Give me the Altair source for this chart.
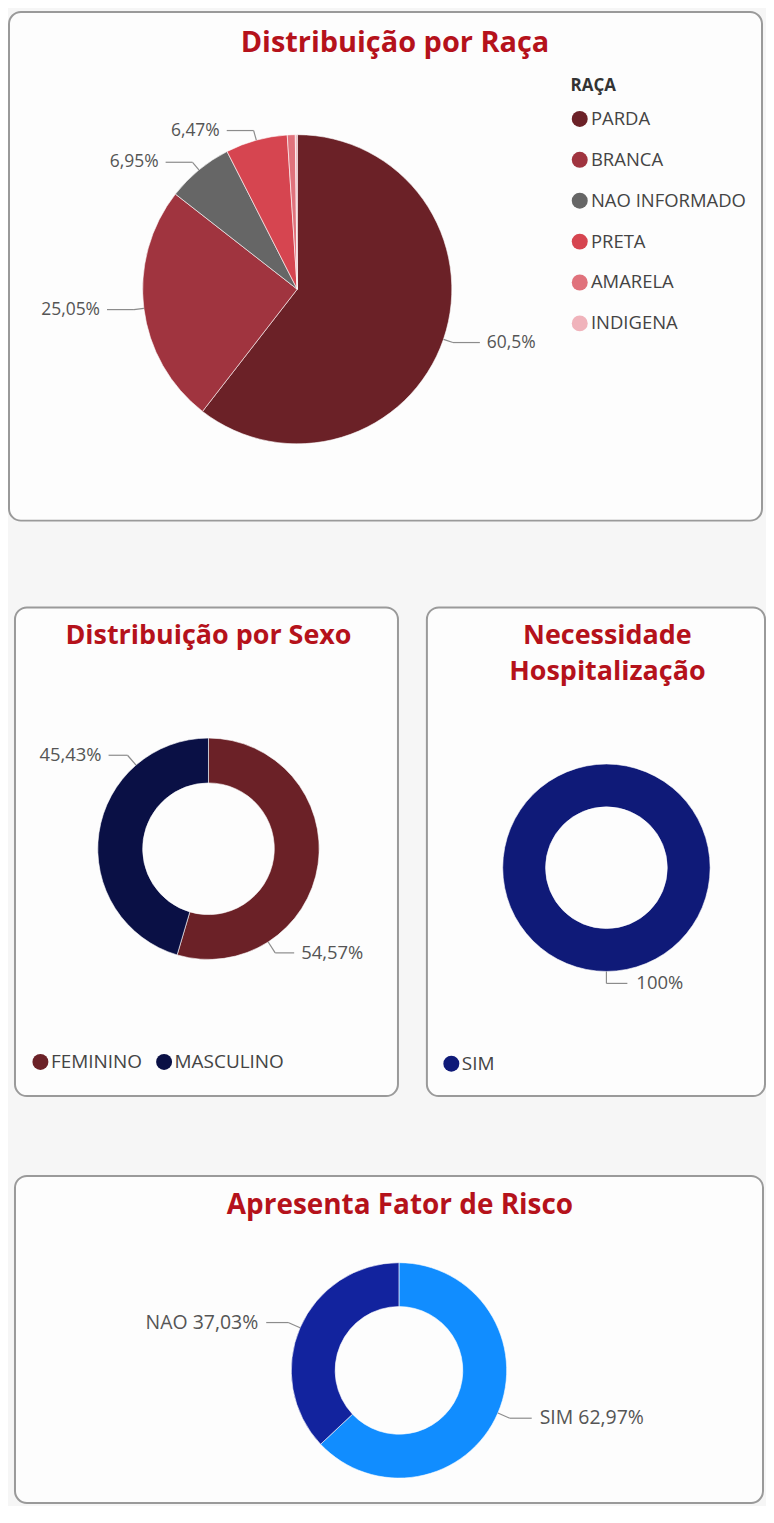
import altair as alt
import pandas as pd

# ---------------- data ----------------
raca_cats = ["PARDA", "BRANCA", "NAO INFORMADO", "PRETA", "AMARELA", "INDIGENA"]
raca_vals = [60.5, 25.05, 6.95, 6.47, 0.83, 0.20]
raca_colors = ["#6b2127", "#a0343f", "#666666", "#d64550", "#e0727c", "#f0b3bb"]

sexo_cats = ["FEMININO", "MASCULINO"]
sexo_vals = [54.57, 45.43]
sexo_colors = ["#6b2127", "#0a1045"]

hosp_cats = ["SIM"]
hosp_vals = [100.0]
hosp_colors = ["#0f1a78"]

risco_cats = ["SIM", "NAO"]
risco_vals = [62.97, 37.03]
risco_colors = ["#118dff", "#12239e"]

FONT = "Open Sans"
TITLE_COLOR = "#b5121b"
LABEL_COLOR = "#555555"
LINE_COLOR = "#8c8c8c"
CARD = alt.ViewBackground(fill="#fdfdfd", stroke="#9a9a9a", strokeWidth=2, cornerRadius=12)


def pie_panel(cats, vals, colors, W, H, cx, cy, R, inner, title, tx, ty, title_size, legend,
              label_size=18, label_frac=0.5, show_cat=False, elbow=12, hlen=20, gap=5):
    df = pd.DataFrame({"cat": cats, "value": vals, "idx": list(range(len(cats)))})
    lbl_expr = "replace('' + datum.value, '.', ',') + '%'"
    if show_cat:
        lbl_expr = "datum.cat + ' ' + " + lbl_expr
    base = (
        alt.Chart(df)
        .transform_joinaggregate(total="sum(value)")
        .transform_window(cum="sum(value)", sort=[alt.SortField("idx")], frame=[None, 0])
        .transform_calculate(ang=f"(datum.cum - datum.value*(1-{label_frac}))/datum.total*2*PI")
        .transform_calculate(s="sin(datum.ang)", c="cos(datum.ang)")
        .transform_calculate(
            side="datum.s >= 0 ? 1 : -1",
            px=f"datum.s*{R}", py=f"datum.c*{R}",
            ex=f"datum.s*{R + elbow}", ey=f"datum.c*{R + elbow}",
        )
        .transform_calculate(
            hx=f"datum.ex + datum.side*{hlen}",
            lx=f"datum.ex + datum.side*{hlen + gap}",
            lbl=lbl_expr,
        )
    )
    xs = alt.Scale(domain=[-cx, W - cx], nice=False, zero=False)
    ys = alt.Scale(domain=[-(H - cy), cy], nice=False, zero=False)

    arcs = base.mark_arc(radius=R, radius2=inner, stroke="#ffffff", strokeWidth=0.6).encode(
        theta=alt.Theta("value:Q", stack=True),
        order=alt.Order("idx:Q"),
        color=alt.Color("cat:N", scale=alt.Scale(domain=cats, range=colors), legend=legend),
        x=alt.value(cx),
        y=alt.value(cy),
    )
    lb = base.transform_filter("datum.value/datum.total >= 0.02")
    seg1 = lb.mark_rule(color=LINE_COLOR, strokeWidth=1.2).encode(
        x=alt.X("px:Q", scale=xs, axis=None), y=alt.Y("py:Q", scale=ys, axis=None),
        x2="ex:Q", y2="ey:Q")
    seg2 = lb.mark_rule(color=LINE_COLOR, strokeWidth=1.2).encode(
        x=alt.X("ex:Q", scale=xs, axis=None), y=alt.Y("ey:Q", scale=ys, axis=None),
        x2="hx:Q", y2="ey:Q")
    tr = lb.transform_filter("datum.side > 0").mark_text(
        align="left", baseline="middle", font=FONT, fontSize=label_size, color=LABEL_COLOR).encode(
        x=alt.X("lx:Q", scale=xs, axis=None), y=alt.Y("ey:Q", scale=ys, axis=None), text="lbl:N")
    tl = lb.transform_filter("datum.side < 0").mark_text(
        align="right", baseline="middle", font=FONT, fontSize=label_size, color=LABEL_COLOR).encode(
        x=alt.X("lx:Q", scale=xs, axis=None), y=alt.Y("ey:Q", scale=ys, axis=None), text="lbl:N")
    ttl = alt.Chart(pd.DataFrame({"t": [title]})).mark_text(
        font=FONT, fontWeight="bold", fontSize=title_size, color=TITLE_COLOR, align="center",
        baseline="middle", lineBreak="\n", lineHeight=36).encode(
        text="t:N", x=alt.value(tx), y=alt.value(ty))
    return alt.layer(arcs, seg1, seg2, tr, tl, ttl).properties(width=W, height=H, view=CARD)


def spacer(w, h):
    return alt.Chart(pd.DataFrame({"a": [0]})).mark_point(size=1, opacity=0).encode(
        x=alt.value(w / 2), y=alt.value(h / 2)).properties(width=w, height=h)


leg_common = dict(symbolType="circle", symbolSize=256, symbolStrokeWidth=0, symbolOpacity=1,
                  labelFont=FONT, labelColor="#444444")

p1 = pie_panel(raca_cats, raca_vals, raca_colors, 755, 510, 289, 278, 155, 0,
               "Distribuição por Raça", 387, 31, 29,
               alt.Legend(title="RAÇA", orient="none", legendX=563, legendY=66,
                          titleFont=FONT, titleFontSize=17, titleFontWeight="bold",
                          titleColor="#333333", titlePadding=15, rowPadding=22,
                          labelOffset=2, labelFontSize=18.5, **leg_common),
               label_size=17.5, elbow=10, hlen=27, gap=7)

p2 = pie_panel(sexo_cats, sexo_vals, sexo_colors, 384, 490, 194, 242, 111, 66,
               "Distribuição por Sexo", 194, 29, 27,
               alt.Legend(title=None, orient="none", legendX=16, legendY=446,
                          direction="horizontal", columnPadding=12, labelOffset=1,
                          labelFontSize=19, **leg_common),
               label_size=18.5, label_frac=0.75, elbow=13, hlen=19, gap=7)

p3 = pie_panel(hosp_cats, hosp_vals, hosp_colors, 339, 490, 180, 261, 104, 61,
               "Necessidade\nHospitalização", 181, 29, 27,
               alt.Legend(title=None, orient="none", legendX=15, legendY=448,
                          labelOffset=1, labelFontSize=19, **leg_common),
               label_size=18.5, elbow=12, hlen=21, gap=9)

p4 = pie_panel(risco_cats, risco_vals, risco_colors, 750, 328, 385, 195, 108, 64,
               "Apresenta Fator de Risco", 386, 30, 28, None,
               label_size=19.5, show_cat=True, elbow=13, hlen=22, gap=8)

middle = alt.hconcat(spacer(5, 490), p2, spacer(27, 490), p3, spacing=0).resolve_scale(
    color="independent").resolve_legend(color="independent")
bottom = alt.hconcat(spacer(5, 328), p4, spacing=0).resolve_scale(color="independent")
upper = alt.vconcat(p1, middle, spacing=85).resolve_scale(
    color="independent").resolve_legend(color="independent")

chart = (
    alt.vconcat(upper, bottom, spacing=78)
    .resolve_scale(color="independent")
    .resolve_legend(color="independent")
    .properties(padding={"left": 0, "top": 1, "right": 0, "bottom": 0}, background="#f6f6f6")
    .configure_view(strokeWidth=0)
)

chart.save("out.html", embed_options={"renderer": "svg", "actions": False})
